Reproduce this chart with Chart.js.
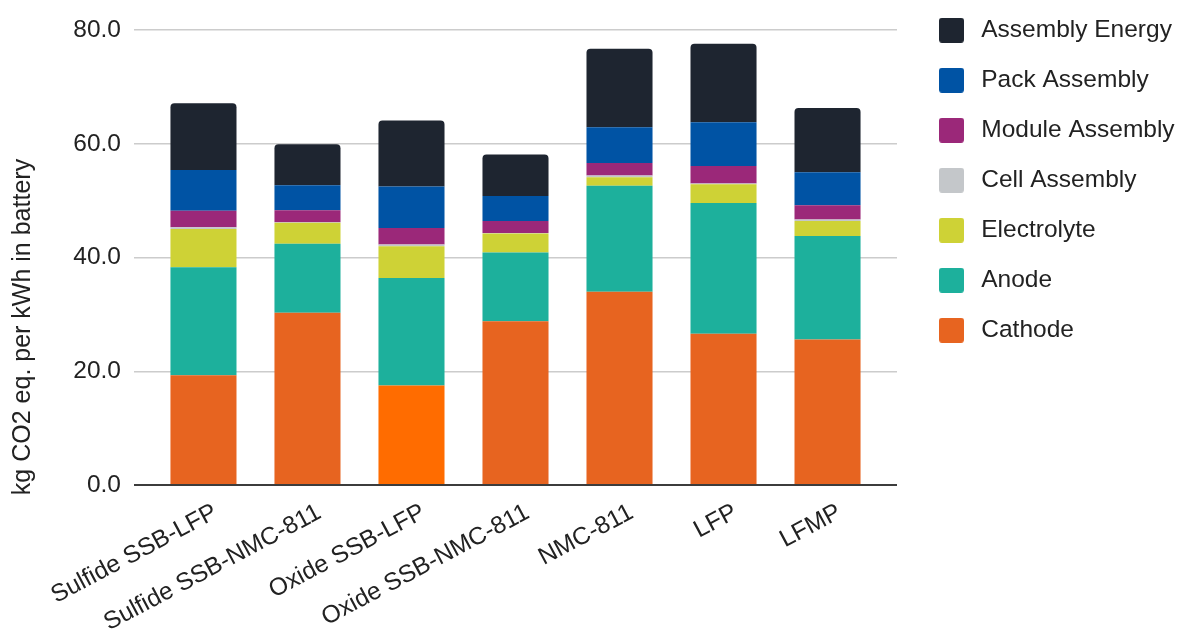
<!DOCTYPE html>
<html>
<head>
<meta charset="utf-8">
<script src="https://cdn.jsdelivr.net/npm/chart.js@4.4.1/dist/chart.umd.min.js"></script>
<style>
  html, body { margin: 0; padding: 0; background: #fff; }
  #wrap { width: 1180px; height: 638px; }
</style>
</head>
<body>
<div id="wrap"><canvas id="chart" width="1180" height="638"></canvas></div>
<script>
// battery chemistries along the x axis
const chemistries = ['Sulfide SSB-LFP', 'Sulfide SSB-NMC-811', 'Oxide SSB-LFP', 'Oxide SSB-NMC-811', 'NMC-811', 'LFP', 'LFMP'];

// kg CO2 eq. per kWh, stacked bottom to top
const cathode        = [19.3, 30.3, 17.5, 28.8, 34.0, 26.6, 25.6];
const anode          = [19.0, 12.1, 18.9, 12.1, 18.6, 23.0, 18.2];
const electrolyte    = [6.7, 3.7, 5.6, 3.3, 1.5, 3.3, 2.6];
const cellAssembly   = [0.3, 0.1, 0.3, 0.1, 0.3, 0.1, 0.3];
const moduleAssembly = [2.9, 2.1, 2.9, 2.1, 2.2, 3.1, 2.5];
const packAssembly   = [7.2, 4.4, 7.3, 4.4, 6.3, 7.7, 5.8];
const assemblyEnergy = [11.7, 7.2, 11.6, 7.3, 13.8, 13.8, 11.3];

const yTicks = [0, 20, 40, 60, 80];
const yTitle = 'kg CO2 eq. per kWh in battery';

const FONT = "'Liberation Sans', Arial, sans-serif";
const TEXT = '#222222';
const highlightBar = 2; // cathode of this bar is drawn brighter

const series = [
  { label: 'Cathode',         data: cathode,        color: '#e76420' },
  { label: 'Anode',           data: anode,          color: '#1db09c' },
  { label: 'Electrolyte',     data: electrolyte,    color: '#ced236' },
  { label: 'Cell Assembly',   data: cellAssembly,   color: '#c4c7ca' },
  { label: 'Module Assembly', data: moduleAssembly, color: '#9b2879' },
  { label: 'Pack Assembly',   data: packAssembly,   color: '#0053a4' },
  { label: 'Assembly Energy', data: assemblyEnergy, color: '#1e2530' }
];

// legend swatch: rounded square with some room around it
function swatch(color) {
  const c = document.createElement('canvas');
  c.width = 54; c.height = 25;
  const g = c.getContext('2d');
  g.fillStyle = color;
  g.beginPath();
  if (g.roundRect) g.roundRect(24, 0, 25, 25, 3); else g.rect(24, 0, 25, 25);
  g.fill();
  return c;
}
const swatches = series.map(s => swatch(s.color));

const datasets = series.map((s, i) => ({
  label: s.label,
  data: s.data.map((v, j) => ({ x: j, y: v })),
  backgroundColor: i === 0
    ? (c => c.dataIndex === highlightBar ? '#ff6c00' : s.color)
    : s.color,
  borderWidth: 0,
  borderSkipped: false,
  borderRadius: i === series.length - 1
    ? { topLeft: 4, topRight: 4, bottomLeft: 0, bottomRight: 0 }
    : 0,
  barPercentage: 1,
  categoryPercentage: 0.635
}));

// rotated axis title, centred on the canvas height
const yTitlePlugin = {
  id: 'yTitle',
  afterDraw(chart) {
    const ctx = chart.ctx;
    ctx.save();
    ctx.translate(23.5, chart.height / 2 + 8);
    ctx.rotate(-Math.PI / 2);
    ctx.font = '25px ' + FONT;
    ctx.fillStyle = TEXT;
    ctx.textAlign = 'center';
    ctx.textBaseline = 'middle';
    ctx.fillText(yTitle, 0, 0);
    ctx.restore();
  }
};

new Chart(document.getElementById('chart'), {
  type: 'bar',
  data: { datasets: datasets },
  plugins: [yTitlePlugin],
  options: {
    responsive: false,
    animation: false,
    devicePixelRatio: 1,
    layout: { padding: 0 },
    scales: {
      x: {
        type: 'linear',
        offset: false,
        stacked: true,
        min: -0.668,
        max: chemistries.length - 1 + 0.668,
        afterBuildTicks: s => { s.ticks = chemistries.map((c, i) => ({ value: i })); },
        afterFit: s => { s.height = 153; s.paddingLeft = 0; s.paddingRight = 0; },
        grid: { display: false },
        border: { display: false },
        ticks: {
          autoSkip: false,
          minRotation: 28,
          maxRotation: 28,
          padding: 5,
          labelOffset: 12,
          color: TEXT,
          font: { family: FONT, size: 24.5 },
          callback: v => chemistries[v]
        }
      },
      y: {
        stacked: true,
        min: 0,
        max: 80,
        afterBuildTicks: s => { s.ticks = yTicks.map(v => ({ value: v })); },
        afterFit: s => { s.width = 134; s.paddingTop = 30; },
        border: { display: false },
        grid: {
          drawTicks: false,
          color: c => c.tick.value === 0 ? '#3c3c3c' : '#cccccc',
          lineWidth: c => c.tick.value === 0 ? 2 : 1.5
        },
        ticks: {
          padding: 13,
          color: TEXT,
          font: { family: FONT, size: 24.5 },
          callback: v => v.toFixed(1)
        }
      }
    },
    plugins: {
      tooltip: { enabled: false },
      legend: {
        position: 'right',
        align: 'start',
        reverse: true,
        maxWidth: 283,
        labels: {
          usePointStyle: true,
          pointStyleWidth: 54,
          padding: 18,
          color: TEXT,
          font: { family: FONT, size: 24.5, lineHeight: 32 / 24.5 },
          generateLabels: chart => chart.data.datasets.map((ds, i) => ({
            text: [ds.label],
            datasetIndex: i,
            pointStyle: swatches[i],
            fillStyle: series[i].color,
            lineWidth: 0,
            hidden: false,
            fontColor: TEXT
          }))
        }
      }
    }
  }
});
</script>
</body>
</html>
